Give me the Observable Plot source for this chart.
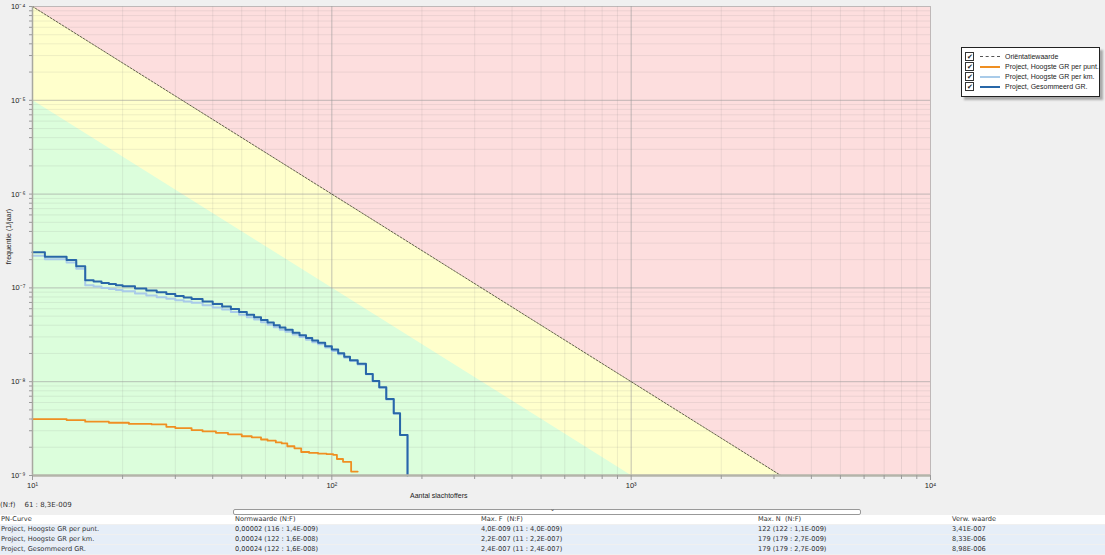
<!DOCTYPE html>
<html><head><meta charset="utf-8">
<script src="https://cdn.jsdelivr.net/npm/d3@7"></script>
<script src="https://cdn.jsdelivr.net/npm/@observablehq/plot@0.6"></script>
<style>
body{margin:0;background:#f0f0f0;width:1105px;height:555px;overflow:hidden;position:relative;font-family:"DejaVu Sans",sans-serif;}
#chart{position:absolute;left:0;top:0;}
.ax{position:absolute;font:7px "Liberation Sans",Arial,sans-serif;color:#222;white-space:nowrap;}
.legend{position:absolute;left:961px;top:47px;width:137px;height:48px;background:#fff;border:1px solid #222;box-shadow:3px 3px 2px #aaa;font:7px "Liberation Sans",Arial,sans-serif;color:#222;}
.lrow{position:absolute;left:3px;height:9px;display:flex;align-items:center;white-space:nowrap;}
.cb{width:7px;height:7px;border:1px solid #333;font-size:7px;line-height:7px;text-align:center;margin-right:6px;}
.ls{width:20px;height:0;margin-right:5px;}
.tbl{position:absolute;left:0;width:1105px;font:6.6px "DejaVu Sans",sans-serif;color:#333;}
.row{position:absolute;left:0;width:1105px;height:9px;line-height:9px;}
.c{position:absolute;white-space:nowrap;}
</style></head><body>
<div id="chart"></div>
<div id="extra"></div>
<script>
// axis ticks
const xTicks = [10, 100, 1000, 10000];
const xTickLabels = ["10¹", "10²", "10³", "10⁴"];
const yTicks = [1e-9, 1e-8, 1e-7, 1e-6, 1e-5, 1e-4];
const yTickLabels = ["10⁻⁹", "10⁻⁸", "10⁻⁷", "10⁻⁶", "10⁻⁵", "10⁻⁴"];

// zone boundaries
const orientN = [10, 3162];
const orientF = [1e-4, 1e-9];
const greenN = [10, 1000];
const greenF = [1e-5, 1e-9];

// Project, Gesommeerd GR.
const blueN = [10,11,13,14,15,16,17,18,19,20,22,24,26,28,30,32,34,37,40,43,46,49,52,55,58,61,64,67,70,74,78,82,86,90,95,100,105,110,115,122,130,137,144,152,161,169,179];
const blueF = [2.4e-7,2.15e-7,1.98e-7,1.70e-7,1.21e-7,1.17e-7,1.13e-7,1.10e-7,1.07e-7,1.04e-7,9.88e-8,9.40e-8,8.97e-8,8.59e-8,8.22e-8,7.91e-8,7.62e-8,7.15e-8,6.73e-8,6.35e-8,5.94e-8,5.53e-8,5.18e-8,4.88e-8,4.55e-8,4.27e-8,4.01e-8,3.78e-8,3.58e-8,3.33e-8,3.13e-8,2.92e-8,2.75e-8,2.60e-8,2.39e-8,2.20e-8,2.01e-8,1.84e-8,1.69e-8,1.55e-8,1.21e-8,1.02e-8,8.71e-9,6.52e-9,4.60e-9,2.7e-9,1e-9];
// Project, Hoogste GR per km.
const kmN = [10,11,13,14,15,16,17,18,19,20,22,24,26,28,30,32,34,37,40,43,46,49,52,55,58,61,64,67,70,74,78,82,86,90,95,100,105,110,115,122,130,137,144,152,161,169,179];
const kmF = [2.2e-7,2.02e-7,1.86e-7,1.60e-7,1.07e-7,1.035e-7,1.00e-7,9.74e-8,9.47e-8,9.20e-8,8.74e-8,8.32e-8,7.94e-8,7.65e-8,7.40e-8,7.16e-8,6.93e-8,6.54e-8,6.19e-8,5.87e-8,5.52e-8,5.17e-8,4.87e-8,4.61e-8,4.30e-8,4.04e-8,3.81e-8,3.59e-8,3.40e-8,3.18e-8,2.99e-8,2.80e-8,2.64e-8,2.50e-8,2.31e-8,2.13e-8,1.96e-8,1.80e-8,1.66e-8,1.53e-8,1.20e-8,1.01e-8,8.6e-9,6.45e-9,4.55e-9,2.7e-9,1e-9];
// Project, Hoogste GR per punt.
const puntN = [10,13,15,18,21,25,28,30,34,37,41,45,50,54,58,61,65,68,71,75,79,84,90,96,101,104,109,116,122];
const puntF = [4.0e-9,3.9e-9,3.75e-9,3.65e-9,3.55e-9,3.5e-9,3.3e-9,3.2e-9,3.05e-9,2.95e-9,2.85e-9,2.75e-9,2.62e-9,2.55e-9,2.42e-9,2.35e-9,2.25e-9,2.2e-9,2.05e-9,1.95e-9,1.78e-9,1.74e-9,1.71e-9,1.69e-9,1.66e-9,1.5e-9,1.4e-9,1.1e-9,1.1e-9];

// legend & table texts
const legendLabels = ["Oriëntatiewaarde", "Project, Hoogste GR per punt.", "Project, Hoogste GR per km.", "Project, Gesommeerd GR."];
const tableHeader = ["PN-Curve", "Normwaarde (N:F)", "Max. F  (N:F)", "Max. N  (N:F)", "Verw. waarde"];
const tableRows = [
  ["Project, Hoogste GR per punt.", "0,00002 (116 : 1,4E-009)", "4,0E-009 (11 : 4,0E-009)", "122 (122 : 1,1E-009)", "3,41E-007"],
  ["Project, Hoogste GR per km.", "0,00024 (122 : 1,6E-008)", "2,2E-007 (11 : 2,2E-007)", "179 (179 : 2,7E-009)", "8,33E-006"],
  ["Project, Gesommeerd GR.", "0,00024 (122 : 1,6E-008)", "2,4E-007 (11 : 2,4E-007)", "179 (179 : 2,7E-009)", "8,98E-006"]
];
const cursorText = "(N:f)    61 : 8,3E-009";

const colors = {red:"#fddede", yellow:"#ffffcc", green:"#dcfedc", orient:"#3a3a2a", punt:"#ef8f22", km:"#a9cbe9", blue:"#2867a8"};

const zip = (N, F) => N.map((n, i) => ({N: n, F: F[i]}));
const orient = zip(orientN, orientF);
const green = zip(greenN, greenF);
const blue = zip(blueN, blueF);
const km = zip(kmN, kmF);
const punt = zip(puntN, puntF);

const minorX = xTicks.slice(0, -1).flatMap(d => [2,3,4,5,6,7,8,9].map(k => d * k));
const minorY = yTicks.slice(0, -1).flatMap(d => [2,3,4,5,6,7,8,9].map(k => d * k));
const xLab = new Map(xTicks.map((d, i) => [d, xTickLabels[i]]));
const yLab = new Map(yTicks.map((d, i) => [d, yTickLabels[i]]));

const chart = Plot.plot({
  width: 1105, height: 500,
  marginLeft: 32, marginRight: 175, marginTop: 6, marginBottom: 25,
  x: {type: "log", domain: [10, 10000], axis: null},
  y: {type: "log", domain: [1e-9, 1e-4], axis: null},
  style: {background: "transparent", fontFamily: "Liberation Sans, Arial, sans-serif", fontSize: "7px", color: "#222"},
  marks: [
    Plot.frame({fill: colors.red, stroke: null}),
    Plot.areaY(orient, {x: "N", y1: yTicks[0], y2: "F", fill: colors.yellow}),
    Plot.areaY(green, {x: "N", y1: yTicks[0], y2: "F", fill: colors.green}),
    Plot.ruleX(minorX, {stroke: "#8a8a8a", strokeOpacity: 0.14, strokeWidth: 1}),
    Plot.ruleY(minorY, {stroke: "#8a8a8a", strokeOpacity: 0.14, strokeWidth: 1}),
    Plot.ruleX(xTicks, {stroke: "#9a9a9a", strokeOpacity: 0.6, strokeWidth: 1}),
    Plot.ruleY(yTicks, {stroke: "#9a9a9a", strokeOpacity: 0.6, strokeWidth: 1}),
    Plot.line(orient, {x: "N", y: "F", stroke: colors.orient, strokeWidth: 0.8, strokeDasharray: "2,1.5"}),
    Plot.line(punt, {x: "N", y: "F", stroke: colors.punt, strokeWidth: 1.8, curve: "step-after"}),
    Plot.line(km, {x: "N", y: "F", stroke: colors.km, strokeWidth: 2, curve: "step-after"}),
    Plot.line(blue, {x: "N", y: "F", stroke: colors.blue, strokeWidth: 2, curve: "step-after"}),
    Plot.ruleX([xTicks[0]], {stroke: "#a8a8a0", strokeWidth: 1.5}),
    Plot.ruleY([yTicks[0]], {stroke: "#b4b4aa", strokeWidth: 2.5}),
    Plot.axisX(minorX, {tickSize: 4, tickFormat: () => "", stroke: "#9a9a9a", label: null}),
    Plot.axisX(xTicks, {tickSize: 5, tickPadding: 2, tickFormat: d => xLab.get(d), stroke: "#9a9a9a", fontSize: 7.5, fill: "#222", label: null}),
    Plot.axisY(minorY, {tickSize: 3, tickFormat: () => "", stroke: "#9a9a9a", label: null}),
    Plot.axisY(yTicks, {tickSize: 3, tickPadding: 4, tickFormat: d => yLab.get(d), stroke: "#9a9a9a", fontSize: 7.5, fill: "#222", label: null})
  ]
});
document.getElementById("chart").appendChild(chart);

// axis titles, legend, table
const ex = document.getElementById("extra");
let html = "";
html += `<div class="ax" style="left:410px;top:492px;">Aantal slachtoffers</div>`;
html += `<div class="ax" style="left:-24px;top:233px;width:64px;text-align:center;transform:rotate(-90deg);">frequentie (1/jaar)</div>`;
const legStyles = [
  `border-top:1px dashed #555`,
  `border-top:2px solid ${colors.punt}`,
  `border-top:2px solid ${colors.km}`,
  `border-top:2px solid ${colors.blue}`
];
html += `<div class="legend">`;
legendLabels.forEach((l, i) => {
  html += `<div class="lrow" style="top:${4 + i * 10}px"><div class="cb">✔</div><div class="ls" style="${legStyles[i]}"></div><span>${l}</span></div>`;
});
html += `</div>`;
html += `<div class="tbl" style="top:500px;font-size:7px;"><div class="c" style="left:0px;top:1px;">${cursorText.replace(/ /g, "&nbsp;")}</div></div>`;
html += `<div style="position:absolute;left:233px;top:509px;width:626px;height:4px;border:1px solid #999;border-radius:2px;background:#fff;"></div>`;
html += `<div style="position:absolute;left:550px;top:505px;font:6px 'DejaVu Sans';color:#333;">⌄</div>`;
const colX = [1, 235, 481, 758, 952];
html += `<div class="tbl" style="top:515px;">`;
html += `<div class="row" style="top:0;background:#fff;">` + tableHeader.map((t, j) => `<span class="c" style="left:${colX[j]}px">${t.replace(/ /g,"&nbsp;")}</span>`).join("") + `</div>`;
tableRows.forEach((r, i) => {
  html += `<div class="row" style="top:${10 + i * 10}px;background:#e6eef8;">` + r.map((t, j) => `<span class="c" style="left:${colX[j]}px">${t}</span>`).join("") + `</div>`;
});
html += `</div>`;
ex.innerHTML = html;
</script>
</body></html>
